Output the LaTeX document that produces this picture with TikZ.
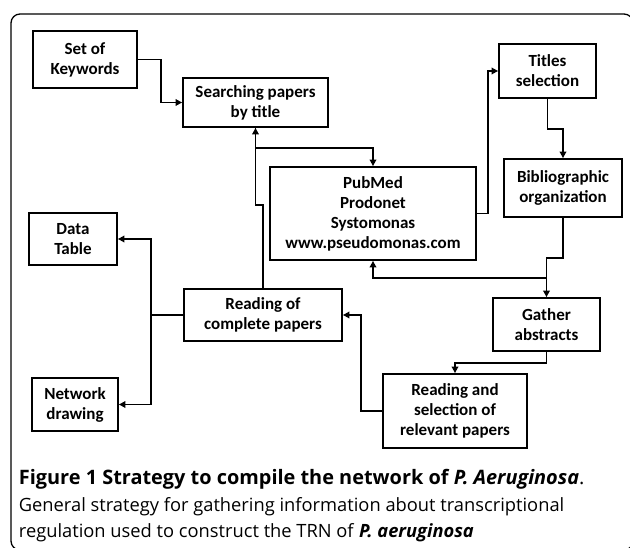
\documentclass[tikz,border=0pt]{standalone}
\usepackage{fontspec}
\setmainfont{Carlito}
\newfontfamily\capfont{Open Sans}
\usetikzlibrary{arrows.meta}
\tikzset{>={Triangle[length=6.5pt,width=6.5pt]}}

\begin{document}
\begin{tikzpicture}[x=1pt, y=-1pt, line width=1.8pt,
    box/.style={draw, align=center, inner sep=0pt, font=\fontsize{17}{20}\selectfont\bfseries},
    capline/.style={anchor=base west, inner sep=0pt, font=\capfont}]
  \useasboundingbox (0,0) rectangle (630,548);
  \begin{scope}
    \clip (0,0) rectangle (630,548);
    \draw[line width=1.3pt, rounded corners=9pt] (11,14) rectangle (633,550);
  \end{scope}
  \node[box, minimum width=104pt, minimum height=57pt] (keys) at (85,59.5) {Set of\\Keywords};
  \node[box, minimum width=145pt, minimum height=49pt] (search) at (255.5,102.5) {Searching papers\\by title};
  \node[box, minimum width=97pt, minimum height=54pt] (titles) at (547.5,71) {Titles\\selection};
  \node[box, minimum width=118pt, minimum height=58pt] (biblio) at (563,188) {Bibliographic\\organization};
  \node[box, minimum width=206pt, minimum height=93pt] (pubmed) at (373,213.5) {PubMed\\Prodonet\\Systomonas\\www.pseudomonas.com};
  \node[box, minimum width=88pt, minimum height=52pt] (data) at (73,239) {Data\\Table};
  \node[box, minimum width=158pt, minimum height=52pt] (reading) at (263,315) {Reading of\\complete papers};
  \node[box, minimum width=86pt, minimum height=53pt] (network) at (75,404.5) {Network\\drawing};
  \node[box, minimum width=107pt, minimum height=53pt] (gather) at (546.5,324.5) {Gather\\abstracts};
  \node[box, minimum width=144pt, minimum height=74pt] (select) at (455,411) {Reading and\\selection of\\relevant papers};
  \coordinate (jog) at (0,205);
  \draw[->] (keys.east) -- ++(23,0) |- (search.west);
  \draw[->] (reading.north) |- (search.south |- jog) -- (search.south);
  \draw[->] (search.south) -- ++(0,20) -| (pubmed.north);
  \draw[->] (pubmed.east) -- ++(11,0) |- (titles.west);
  \draw[->] (titles.south) -- ++(0,30) -| (biblio.north);
  \draw[->] (biblio.south) -- ++(0,40) -| (gather.north);
  \draw[->] (gather.north) ++(0,-19) -| (pubmed.south);
  \draw[->] (gather.south) -- ++(0,11) -| (select.north);
  \draw[->] (select.west) -- ++(-21,0) |- (reading.east);
  \draw[->] (reading.west) -- ++(-32,0) |- (data.east);
  \draw[->] (reading.west) ++(-32,0) |- (network.east);
  \node[capline, font=\capfont\fontsize{19.9}{24}\selectfont\bfseries] (cap1) at (18,484)
    {Figure 1 Strategy to compile the network of \textit{P. Aeruginosa}\mdseries.};
  \node[capline, font=\capfont\fontsize{18.3}{20}\selectfont] (cap2) at (18,511)
    {General strategy for gathering information about transcriptional};
  \node[capline, font=\capfont\fontsize{18.3}{20}\selectfont] (cap3) at (18,537)
    {regulation used to construct the TRN of \textbf{\textit{P. aeruginosa}}};
\end{tikzpicture}
\end{document}
